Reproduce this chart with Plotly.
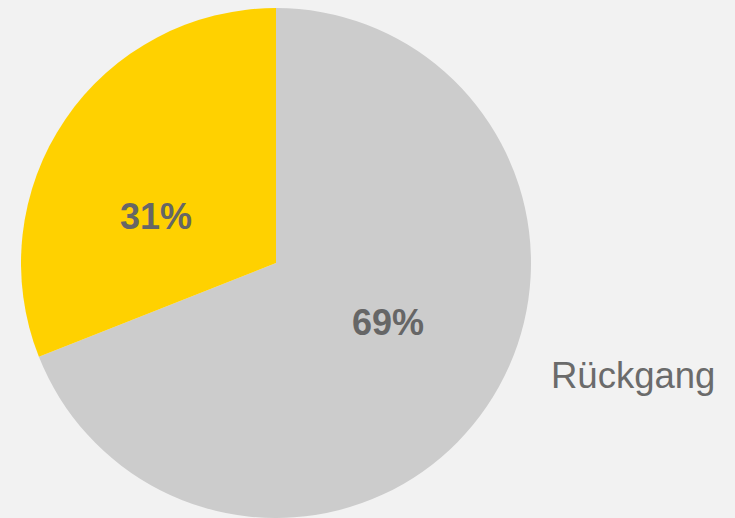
import plotly.graph_objects as go

labels = ['Rückgang', 'Anstieg']
values = [69, 31]
colors = ['#cccccc', '#ffd100']

W, H = 735, 518
TOP = 8


def px_to_paper(px, py):
    return px / W, (H - py) / (H - TOP)


fig = go.Figure()
fig.add_trace(go.Pie(
    labels=labels, values=values, sort=False, direction='clockwise', rotation=0,
    marker=dict(colors=colors, line=dict(width=0)),
    textinfo='none', hoverinfo='label+percent', showlegend=False,
    domain=dict(x=[21 / W, 531 / W], y=[0, 1])))

total = sum(values)
label_pos = [(388, 322), (156, 216)]  # pixel centres of the percent labels
for v, (px, py) in zip(values, label_pos):
    x, y = px_to_paper(px, py)
    fig.add_annotation(
        x=x, y=y, xref='paper', yref='paper', showarrow=False,
        xanchor='center', yanchor='middle',
        text='<b>{:.0f}%</b>'.format(100 * v / total),
        font=dict(family='Liberation Sans, Arial', size=36, color='#666666'))

x, y = px_to_paper(549, 375)
fig.add_annotation(
    x=x, y=y, xref='paper', yref='paper', showarrow=False,
    xanchor='left', yanchor='middle', text=labels[0],
    font=dict(family='Liberation Sans, Arial', size=36.5, color='#6b6b6b'))

fig.update_layout(
    width=W, height=H,
    margin=dict(l=0, r=0, t=TOP, b=0),
    paper_bgcolor='#f2f2f2', plot_bgcolor='#f2f2f2')

# drop the browser's default body margin so the figure sits at (0, 0)
fig.write_html('out.html', config={'displayModeBar': False},
               post_script="document.body.style.margin='0';"
                           "document.body.style.background='#f2f2f2';")
